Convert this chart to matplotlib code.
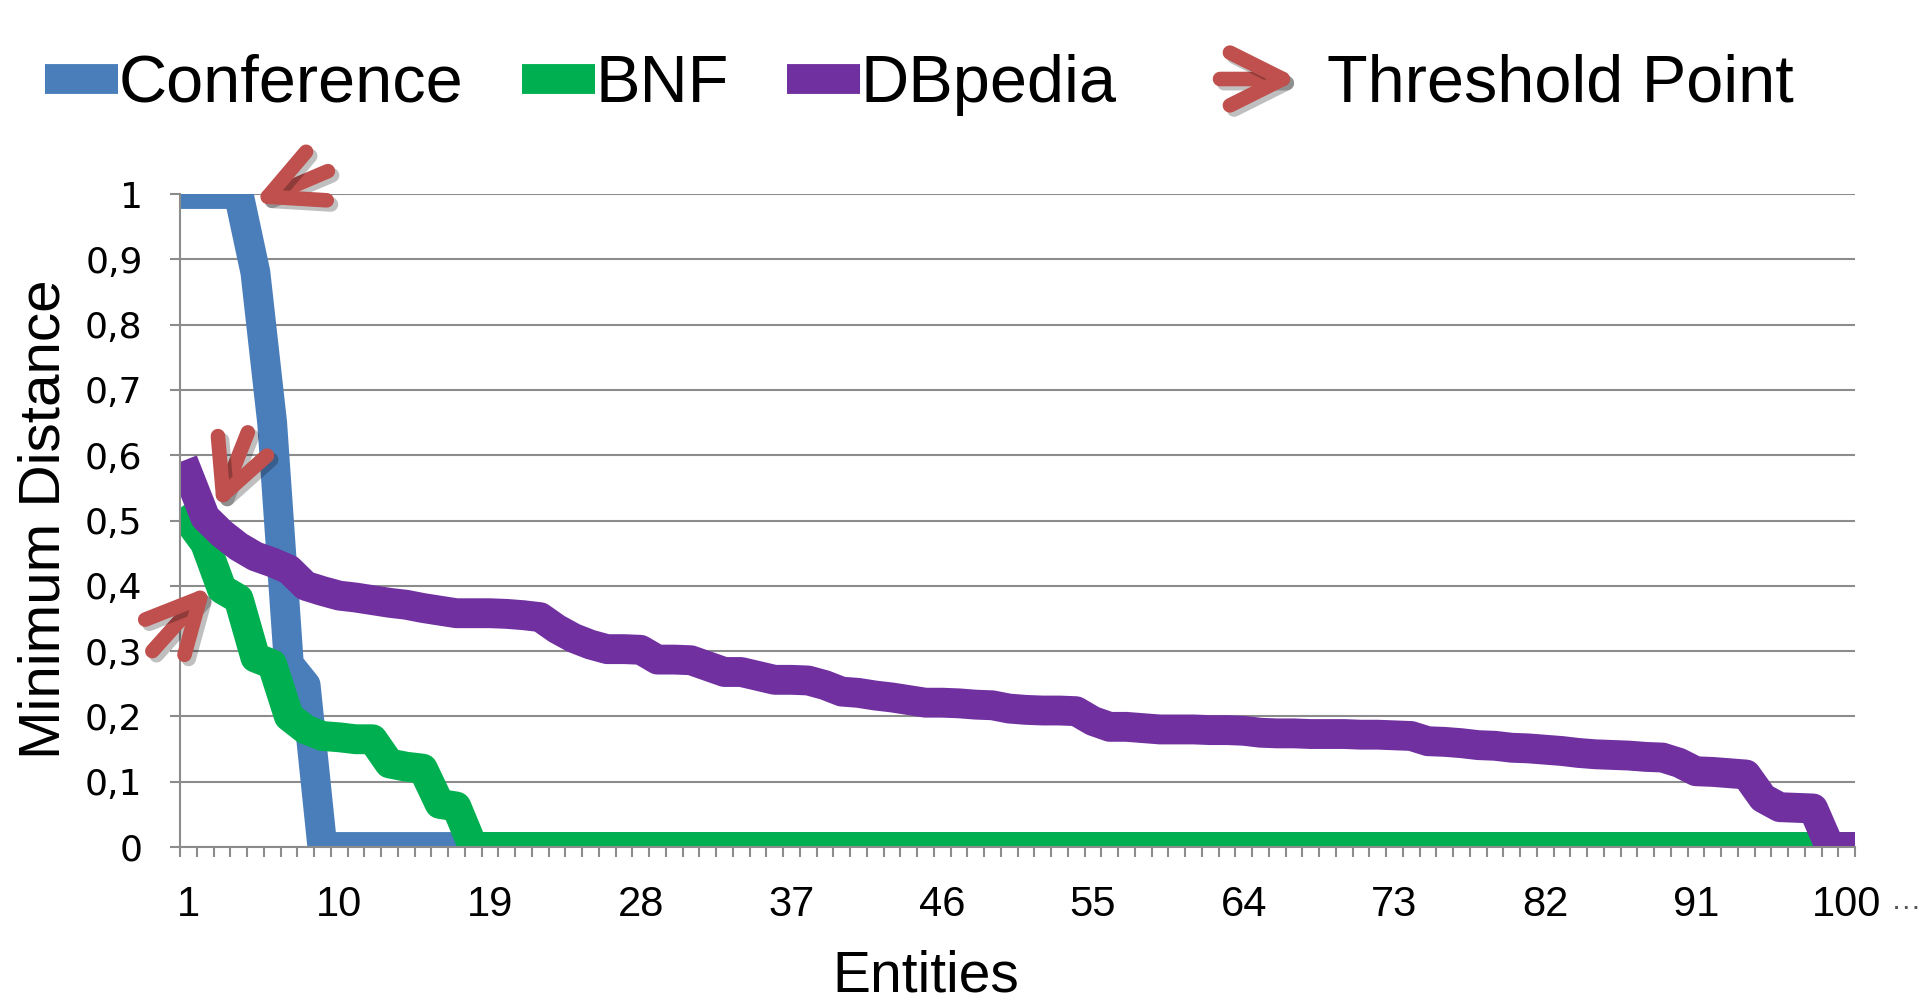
import matplotlib
matplotlib.use("Agg")
import numpy as np
import matplotlib.pyplot as plt
import matplotlib.patheffects as pe
from matplotlib.lines import Line2D
from matplotlib.ticker import FixedLocator

plt.rcParams['font.family'] = ['Liberation Sans', 'DejaVu Sans']

# values, one per entity (1..100)
entities = list(range(1, 101))
conference = [1.0, 1.0, 1.0, 1.0, 0.88, 0.65, 0.28, 0.248, 0.0, 0.0,
              0.0, 0.0, 0.0, 0.0, 0.0, 0.0, 0.0, 0.0, 0.0, 0.0,
              0.0, 0.0, 0.0, 0.0, 0.0, 0.0, 0.0, 0.0, 0.0, 0.0,
              0.0, 0.0, 0.0, 0.0, 0.0, 0.0, 0.0, 0.0, 0.0, 0.0,
              0.0, 0.0, 0.0, 0.0, 0.0, 0.0, 0.0, 0.0, 0.0, 0.0,
              0.0, 0.0, 0.0, 0.0, 0.0, 0.0, 0.0, 0.0, 0.0, 0.0,
              0.0, 0.0, 0.0, 0.0, 0.0, 0.0, 0.0, 0.0, 0.0, 0.0,
              0.0, 0.0, 0.0, 0.0, 0.0, 0.0, 0.0, 0.0, 0.0, 0.0,
              0.0, 0.0, 0.0, 0.0, 0.0, 0.0, 0.0, 0.0, 0.0, 0.0,
              0.0, 0.0, 0.0, 0.0, 0.0, 0.0, 0.0, 0.0, 0.0, 0.0]
bnf = [0.50, 0.465, 0.395, 0.38, 0.29, 0.28, 0.20, 0.18, 0.17, 0.168,
       0.165, 0.165, 0.128, 0.123, 0.12, 0.066, 0.062, 0.0, 0.0, 0.0,
       0.0, 0.0, 0.0, 0.0, 0.0, 0.0, 0.0, 0.0, 0.0, 0.0,
       0.0, 0.0, 0.0, 0.0, 0.0, 0.0, 0.0, 0.0, 0.0, 0.0,
       0.0, 0.0, 0.0, 0.0, 0.0, 0.0, 0.0, 0.0, 0.0, 0.0,
       0.0, 0.0, 0.0, 0.0, 0.0, 0.0, 0.0, 0.0, 0.0, 0.0,
       0.0, 0.0, 0.0, 0.0, 0.0, 0.0, 0.0, 0.0, 0.0, 0.0,
       0.0, 0.0, 0.0, 0.0, 0.0, 0.0, 0.0, 0.0, 0.0, 0.0,
       0.0, 0.0, 0.0, 0.0, 0.0, 0.0, 0.0, 0.0, 0.0, 0.0,
       0.0, 0.0, 0.0, 0.0, 0.0, 0.0, 0.0, 0.0, 0.0, 0.0]
dbpedia = [0.57, 0.505, 0.48, 0.46, 0.445, 0.436, 0.425, 0.40, 0.392, 0.385,
           0.382, 0.378, 0.374, 0.371, 0.366, 0.362, 0.358, 0.358, 0.358, 0.357,
           0.355, 0.352, 0.334, 0.32, 0.31, 0.303, 0.303, 0.302, 0.287, 0.287,
           0.286, 0.277, 0.268, 0.268, 0.262, 0.256, 0.256, 0.255, 0.248, 0.238,
           0.236, 0.232, 0.229, 0.225, 0.221, 0.221, 0.22, 0.218, 0.217, 0.212,
           0.21, 0.209, 0.209, 0.208, 0.193, 0.184, 0.184, 0.182, 0.18, 0.18,
           0.18, 0.179, 0.179, 0.178, 0.175, 0.174, 0.174, 0.173, 0.173, 0.173,
           0.172, 0.172, 0.171, 0.17, 0.162, 0.161, 0.159, 0.156, 0.155, 0.152,
           0.151, 0.149, 0.147, 0.144, 0.142, 0.141, 0.14, 0.138, 0.137, 0.129,
           0.116, 0.115, 0.113, 0.111, 0.075, 0.061, 0.06, 0.059, 0.0, 0.0]

series_names = ['Conference', 'BNF', 'DBpedia']
x_tick_values = [1, 10, 19, 28, 37, 46, 55, 64, 73, 82, 91, 100]
x_tick_labels = ['1', '10', '19', '28', '37', '46', '55', '64', '73', '82', '91', '100']
y_tick_values = [0.0, 0.1, 0.2, 0.3, 0.4, 0.5, 0.6, 0.7, 0.8, 0.9, 1.0]
y_tick_labels = ['0', '0,1', '0,2', '0,3', '0,4', '0,5', '0,6', '0,7', '0,8', '0,9', '1']

colors = ['#4A7EBB', '#00B050', '#7030A0']
arrow_red = '#C0504D'
grid_gray = '#8C8C8C'
W, H = 1927, 1006
line_w = 21.5

fig = plt.figure(figsize=(W / 100, H / 100), dpi=100)
ax = fig.add_axes([180 / W, 159 / H, 1675 / W, 653 / H])

for vals, col in zip([conference, bnf, dbpedia], colors):
    ax.plot(entities, vals, color=col, lw=line_w,
            solid_capstyle='projecting', solid_joinstyle='round')

ax.set_xlim(0.5, 100.5)
ax.set_ylim(0, 1)

ax.set_xticks(x_tick_values, labels=x_tick_labels, fontsize=30)
ax.xaxis.set_minor_locator(FixedLocator(np.arange(0.5, 101, 1)))
ax.tick_params(axis='x', which='major', length=0, pad=27)
ax.tick_params(axis='x', which='minor', length=7, width=1.5, color=grid_gray)
ax.set_yticks(y_tick_values, labels=y_tick_labels, fontsize=26, fontfamily='DejaVu Sans')
ax.tick_params(axis='y', length=7, width=1.5, color=grid_gray, pad=20)

ax.yaxis.grid(True, color=grid_gray, lw=1.5)
ax.set_axisbelow(True)
for s in ['top', 'right']:
    ax.spines[s].set_visible(False)
for s in ['left', 'bottom']:
    ax.spines[s].set_color(grid_gray)
    ax.spines[s].set_linewidth(1.5)

ax.set_ylabel('Minimum Distance', fontsize=42, va='center')
ax.yaxis.set_label_coords(-0.0806, 0.502)
ax.set_xlabel('Entities', fontsize=41, va='baseline')
ax.xaxis.set_label_coords(0.445, -0.222)

# threshold arrows
arrow_style = dict(arrowstyle='->,head_length=3.8,head_width=1.9', color=arrow_red,
                   lw=10.5, capstyle='round', joinstyle='round', shrinkA=0, shrinkB=0,
                   mutation_scale=10,
                   path_effects=[pe.SimpleLineShadow(offset=(3, -3), shadow_color='k', alpha=0.25),
                                 pe.Normal()])
ax.annotate('', xy=(4.85, 0.986), xytext=(9.33, 1.035), arrowprops=arrow_style, annotation_clip=False)
ax.annotate('', xy=(2.71, 0.516), xytext=(4.55, 0.635), arrowprops=arrow_style, annotation_clip=False)
ax.annotate('', xy=(2.35, 0.40), xytext=(-1.15, 0.30), arrowprops=arrow_style, annotation_clip=False)

# legend
legend_y = 1 - 85 / H
handles = [Line2D([], [], color=c, lw=line_w, solid_capstyle='butt') for c in colors]
fig.legend(handles, series_names, loc='center left', bbox_to_anchor=(45 / W, legend_y),
           ncol=3, frameon=False, fontsize=48, handlelength=1.1, handletextpad=0.0,
           columnspacing=0.88, borderpad=0, borderaxespad=0)
ax.annotate('', xy=(1299 / W, 1 - 79 / H), xytext=(1220 / W, 1 - 79 / H),
            xycoords='figure fraction', arrowprops=arrow_style)
fig.text(1327 / W, legend_y, 'Threshold Point', fontsize=48, ha='left', va='center')
fig.text(1906 / W, 1 - 901 / H, '…', fontsize=22, ha='center', va='center', color='#595959')

fig.savefig('out.png', dpi=100)
